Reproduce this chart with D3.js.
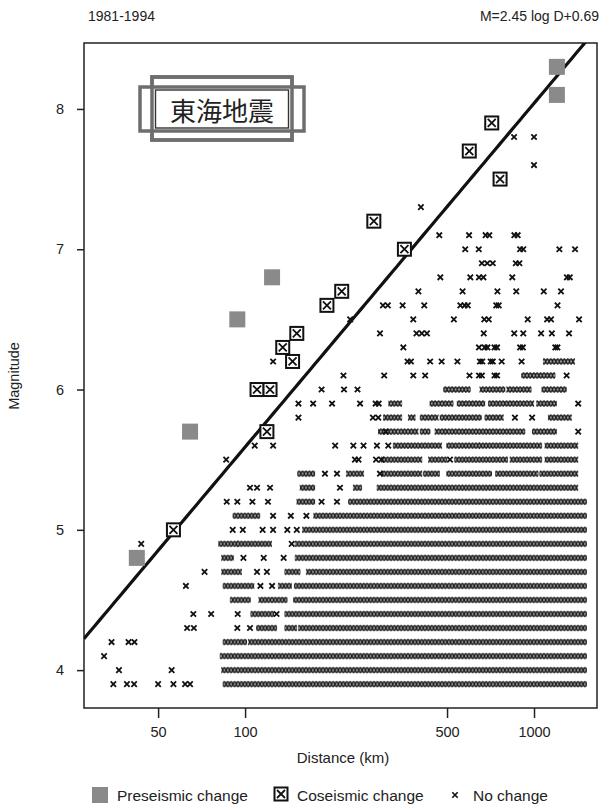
<!DOCTYPE html>
<html>
<head>
<meta charset="utf-8">
<script src="https://cdn.jsdelivr.net/npm/d3@7"></script>
<style>
body { margin: 0; background: #fff; }
svg text { font-family: "Liberation Sans", Arial, sans-serif; fill: #222; }
</style>
</head>
<body>
<script>

// preseismic change: [distance km, magnitude]
const preseismic = [[42.2, 4.8], [64.5, 5.7], [94, 6.5], [124, 6.8], [1200, 8.3], [1200, 8.1]];

// coseismic change: [distance km, magnitude]
const coseismic = [[56.5, 5.0], [119, 5.7], [110, 6.0], [122, 6.0], [146, 6.2], [135, 6.3], [151, 6.4],
    [192, 6.6], [216, 6.7], [279, 7.2], [356, 7.0], [597, 7.7], [714, 7.9], [763, 7.5]];

// no change, single marks: [magnitude, distances km]
const noChangeRows = [
    [3.9, [35, 39, 41.3, 50, 56.5, 62, 64.5]],
    [4.0, [36.6, 55.7]],
    [4.1, [32.5]],
    [4.2, [34.5, 39.5, 41.4]],
    [4.3, [63, 66.5, 94, 104]],
    [4.4, [66.2, 76.3, 94.3, 128.5]],
    [4.6, [62.4, 113, 124]],
    [4.7, [72.4, 110, 119]],
    [4.8, [98.7, 116, 136]],
    [4.9, [43.7, 145]],
    [5.0, [90.6, 98.2, 115, 125, 140, 151]],
    [5.1, [125, 144, 163]],
    [5.2, [86.4, 94, 106, 120, 184, 208]],
    [5.3, [104, 110, 122, 213]],
    [5.4, [189, 208, 293]],
    [5.5, [86, 240, 247, 284, 296, 512]],
    [5.6, [108, 125, 205, 237, 257, 286, 313]],
    [5.7, [307, 1422]],
    [5.8, [153, 277, 289, 859, 985]],
    [5.9, [153, 172, 200, 250, 283, 290, 1422]],
    [6.0, [184, 220, 245]],
    [6.1, [219, 303, 382, 420, 598, 645, 660, 730, 745, 1297]],
    [6.2, [125, 365, 375, 437, 479, 543, 650, 662, 708, 720, 773, 906]],
    [6.3, [353, 645, 675, 690, 730, 745, 895, 915, 1185, 1205]],
    [6.4, [293, 392, 409, 426, 670, 854, 918, 1058, 1153, 1322]],
    [6.5, [231, 382, 528, 673, 697, 951, 1110, 1145, 1432]],
    [6.6, [300, 312, 351, 417, 556, 575, 590, 740, 755, 1206]],
    [6.7, [398, 566, 747, 868, 1081, 1240]],
    [6.8, [474, 602, 645, 668, 841, 1300, 1330]],
    [6.9, [660, 689, 720, 865, 890]],
    [7.0, [578, 644, 895, 918, 1224, 1387]],
    [7.1, [470, 596, 680, 700, 855, 878]],
    [7.3, [406]],
    [7.6, [1000]],
    [7.8, [853, 1000]]
];

// no change, packed runs of marks: [magnitude, from km, to km]
const noChangeRuns = [
    [3.9, 85, 1500], [4.0, 84, 1500], [4.1, 83, 1500],
    [4.2, 85, 100], [4.2, 104, 1500],
    [4.3, 111, 127], [4.3, 139, 149], [4.3, 155, 1500],
    [4.4, 106, 124], [4.4, 139, 1500],
    [4.5, 90, 103], [4.5, 113, 138], [4.5, 149, 1500],
    [4.6, 85, 106], [4.6, 132, 143], [4.6, 150, 1500],
    [4.7, 84, 96], [4.7, 139, 153], [4.7, 165, 1500],
    [4.8, 84, 90], [4.8, 151, 1500],
    [4.9, 82, 93.6], [4.9, 95, 122], [4.9, 151, 1500],
    [5.0, 160, 1500],
    [5.1, 92, 111], [5.1, 175, 1500],
    [5.2, 153, 172], [5.2, 231, 1500],
    [5.3, 157, 172], [5.3, 240, 250], [5.3, 290, 560], [5.3, 575, 1400],
    [5.4, 154, 172], [5.4, 227, 254], [5.4, 300, 404], [5.4, 420, 465], [5.4, 505, 704], [5.4, 745, 1020], [5.4, 1060, 1400],
    [5.5, 300, 404], [5.5, 437, 493], [5.5, 538, 800], [5.5, 837, 1050], [5.5, 1105, 1400],
    [5.6, 330, 473], [5.6, 505, 640], [5.6, 655, 1050], [5.6, 1105, 1400],
    [5.7, 293, 334], [5.7, 344, 392], [5.7, 409, 431], [5.7, 460, 485], [5.7, 497, 918], [5.7, 1000, 1181],
    [5.8, 305, 344], [5.8, 372, 383], [5.8, 409, 460], [5.8, 479, 649], [5.8, 685, 773], [5.8, 1135, 1330],
    [5.9, 318, 344], [5.9, 442, 518], [5.9, 549, 667], [5.9, 704, 985], [5.9, 1034, 1181],
    [6.0, 493, 594], [6.0, 658, 783], [6.0, 815, 965], [6.0, 1078, 1277],
    [6.1, 918, 1167],
    [6.2, 1091, 1364]
];

const xTicks = [50, 100, 500, 1000];
const yTicks = [4, 5, 6, 7, 8];
const fitCoef = [2.45, 0.69];   // M = a log D + b

const W = 602, H = 807;
const plotL = 84, plotR = 597, plotT = 43, plotB = 708;

const svg = d3.select("body").append("svg")
    .attr("width", W).attr("height", H);

const x = d3.scaleLog().domain([27.7, 1652]).range([plotL, plotR]);
const y = d3.scaleLinear().domain([3.73, 8.47]).range([plotB, plotT]);

const defs = svg.append("defs");
defs.append("clipPath").attr("id", "plot")
    .append("rect").attr("x", plotL).attr("y", plotT)
    .attr("width", plotR - plotL).attr("height", plotB - plotT);

// one mark pattern per row so the marks sit on the row
const runRows = Array.from(new Set(noChangeRuns.map(d => d[0])));
runRows.forEach(function (m, i) {
    let p = defs.append("pattern")
        .attr("id", "xs" + i)
        .attr("patternUnits", "userSpaceOnUse")
        .attr("x", 0).attr("y", y(m) - 3.5)
        .attr("width", 3.4).attr("height", 8);
    p.append("path")
        .attr("d", "M0.2,0.5L3.2,6.5M0.2,6.5L3.2,0.5")
        .attr("stroke", "#1c1c1c").attr("stroke-width", 1.2);
});

// frame
svg.append("rect")
    .attr("x", plotL).attr("y", plotT)
    .attr("width", plotR - plotL).attr("height", plotB - plotT)
    .attr("fill", "none").attr("stroke", "#222").attr("stroke-width", 1.5);

// axes
let xAxis = svg.append("g")
    .attr("transform", "translate(0," + plotB + ")")
    .call(d3.axisBottom(x).tickValues(xTicks).tickFormat(d3.format("d")).tickSize(10).tickPadding(9));
let yAxis = svg.append("g")
    .attr("transform", "translate(" + plotL + ",0)")
    .call(d3.axisLeft(y).tickValues(yTicks).tickFormat(d3.format("d")).tickSize(7).tickPadding(13));
[xAxis, yAxis].forEach(function (a) {
    a.select(".domain").remove();
    a.selectAll("line").attr("stroke", "#222").attr("stroke-width", 1.5);
    a.selectAll("text").attr("font-size", 14.5).attr("font-family", null).attr("fill", "#222");
});

// fitted line
const lineD = d3.range(0, 101).map(i => 27.7 * Math.pow(1652 / 27.7, i / 100));
svg.append("path")
    .attr("clip-path", "url(#plot)")
    .attr("d", d3.line().x(d => x(d)).y(d => y(fitCoef[0] * Math.log10(d) + fitCoef[1]))(lineD))
    .attr("fill", "none").attr("stroke", "#111").attr("stroke-width", 3.2);

const plot = svg.append("g").attr("clip-path", "url(#plot)");

// packed runs: gray bar with marks on top
let runs = plot.selectAll(".run")
    .data(noChangeRuns).enter().append("g")
    .attr("class", "run");
runs.append("rect")
    .attr("x", d => x(d[1]) - 1.5)
    .attr("y", d => y(d[0]) - 2.5)
    .attr("width", d => x(d[2]) - x(d[1]) + 3)
    .attr("height", 5)
    .attr("fill", "#9a9a9a");
runs.append("rect")
    .attr("x", d => x(d[1]) - 2)
    .attr("y", d => y(d[0]) - 3.5)
    .attr("width", d => x(d[2]) - x(d[1]) + 4)
    .attr("height", 7)
    .attr("fill", (d) => "url(#xs" + runRows.indexOf(d[0]) + ")");

// single marks
const singles = [];
noChangeRows.forEach(function (r) {
    r[1].forEach(function (d) { singles.push([d, r[0]]); });
});
const cross = "M-2.7,-2.7L2.7,2.7M-2.7,2.7L2.7,-2.7";
plot.selectAll(".nc")
    .data(singles).enter().append("path")
    .attr("class", "nc")
    .attr("transform", d => "translate(" + x(d[0]) + "," + y(d[1]) + ")")
    .attr("d", cross)
    .attr("stroke", "#111").attr("stroke-width", 1.8);

// coseismic boxes
function boxX(g) {
    g.append("rect").attr("x", -6.5).attr("y", -6.5).attr("width", 13).attr("height", 13)
        .attr("fill", "#fff").attr("stroke", "#111").attr("stroke-width", 2);
    g.append("path").attr("d", "M-4,-4L4,4M-4,4L4,-4")
        .attr("stroke", "#111").attr("stroke-width", 1.8);
}
plot.selectAll(".co")
    .data(coseismic).enter().append("g")
    .attr("class", "co")
    .attr("transform", d => "translate(" + x(d[0]) + "," + y(d[1]) + ")")
    .each(function () { boxX(d3.select(this)); });

// preseismic squares
plot.selectAll(".pre")
    .data(preseismic).enter().append("rect")
    .attr("class", "pre")
    .attr("x", d => x(d[0]) - 8).attr("y", d => y(d[1]) - 8)
    .attr("width", 16).attr("height", 16)
    .attr("fill", "#8a8a8a");

// plaque with title
let plaque = svg.append("g");
plaque.append("rect").attr("x", 152).attr("y", 77).attr("width", 140).attr("height", 63)
    .attr("fill", "#fff").attr("stroke", "#6e6e6e").attr("stroke-width", 3.5);
plaque.append("rect").attr("x", 140).attr("y", 87).attr("width", 164).attr("height", 44)
    .attr("fill", "#fff").attr("stroke", "#6e6e6e").attr("stroke-width", 3.5);
plaque.append("rect").attr("x", 152).attr("y", 77).attr("width", 140).attr("height", 63)
    .attr("fill", "none").attr("stroke", "#6e6e6e").attr("stroke-width", 3.5);
plaque.append("rect").attr("x", 155.5).attr("y", 90).attr("width", 133).attr("height", 38)
    .attr("fill", "#fff").attr("stroke", "#333").attr("stroke-width", 1.4);
plaque.append("text")
    .attr("x", 222).attr("y", 109)
    .attr("text-anchor", "middle").attr("dominant-baseline", "central")
    .style("font-family", "'Noto Sans CJK JP', 'Noto Sans CJK SC', sans-serif")
    .attr("font-size", 26)
    .text("東海地震");

// titles
svg.append("text").attr("x", 88).attr("y", 21).attr("font-size", 14).text("1981-1994");
svg.append("text").attr("x", 599).attr("y", 21).attr("font-size", 14)
    .attr("text-anchor", "end").text("M=2.45 log D+0.69");
svg.append("text").attr("x", 343).attr("y", 763).attr("font-size", 15)
    .attr("text-anchor", "middle").text("Distance (km)");
svg.append("text").attr("transform", "translate(19,376) rotate(-90)")
    .attr("font-size", 14.5).attr("text-anchor", "middle").text("Magnitude");

// legend
let leg = svg.append("g");
leg.append("rect").attr("x", 92).attr("y", 787).attr("width", 16).attr("height", 16).attr("fill", "#8a8a8a");
leg.append("text").attr("x", 117).attr("y", 801).attr("font-size", 15.5).text("Preseismic change");
let lb = leg.append("g").attr("transform", "translate(281,794)");
boxX(lb);
leg.append("text").attr("x", 297).attr("y", 801).attr("font-size", 15.5).text("Coseismic change");
leg.append("path").attr("transform", "translate(455,795)").attr("d", cross)
    .attr("stroke", "#111").attr("stroke-width", 1.6);
leg.append("text").attr("x", 473).attr("y", 801).attr("font-size", 15.5).text("No change");

</script>
</body>
</html>
